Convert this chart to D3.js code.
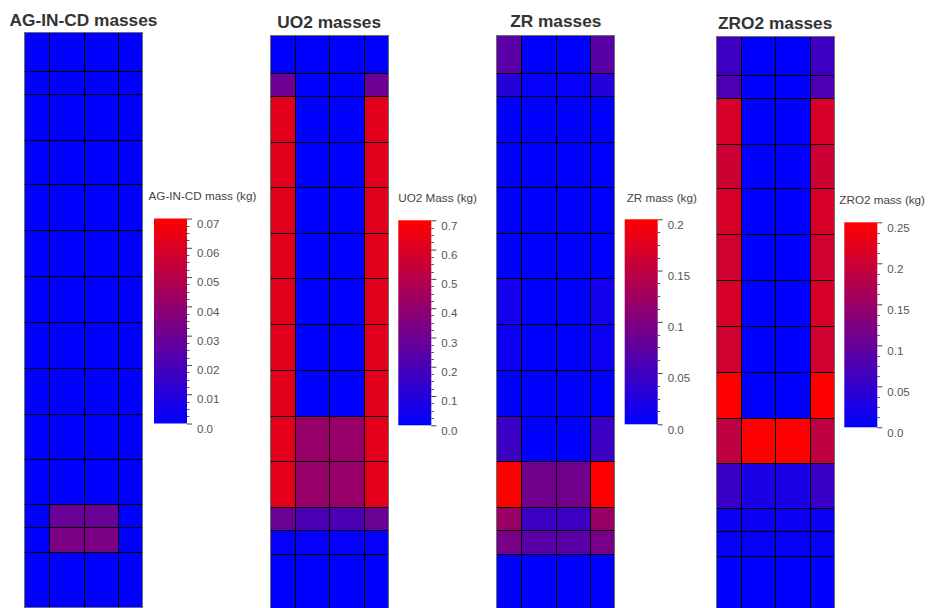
<!DOCTYPE html>
<html><head><meta charset="utf-8">
<script src="https://cdn.jsdelivr.net/npm/d3@7"></script>
<style>
body{margin:0;background:#fff;}
svg{display:block;font-family:"Liberation Sans",Arial,sans-serif;}
</style>
</head><body>
<svg id="chart" width="929" height="608"></svg>
<script>
// ---------------- DATA ----------------
// Axial mesh edges (m), listed top -> bottom
const axialEdges = [5.74, 5.365, 5.133, 4.675, 4.227, 3.77, 3.31, 2.853, 2.393, 1.933, 1.483, 1.027, 0.797, 0.553, 0];
// Radial ring edges (m): inner ring 0..r1, outer ring r1..r2 (mirrored about the axis)
const radialEdges = [0, 0.346, 0.585];

const panelTitles  = ["AG-IN-CD masses", "UO2 masses", "ZR masses", "ZRO2 masses"];
const legendTitles = ["AG-IN-CD mass (kg)", "UO2 Mass (kg)", "ZR mass (kg)", "ZRO2 mass (kg)"];

// Cell masses (kg), one value per axial row, top -> bottom
const agInCdInner = [0, 0, 0, 0, 0, 0, 0, 0, 0, 0, 0, 0.029, 0.034, 0];
const agInCdOuter = [0, 0, 0, 0, 0, 0, 0, 0, 0, 0, 0, 0, 0, 0];

const uo2Inner = [0, 0.003, 0, 0, 0, 0, 0, 0, 0, 0.415, 0.415, 0.205, 0.01, 0];
const uo2Outer = [0, 0.30, 0.62, 0.62, 0.62, 0.62, 0.62, 0.62, 0.62, 0.625, 0.625, 0.295, 0.01, 0];

const zrInner = [0, 0.004, 0, 0, 0, 0, 0, 0, 0, 0, 0.09, 0.047, 0.07, 0];
const zrOuter = [0.07, 0.03, 0, 0, 0, 0, 0.015, 0.01, 0, 0.047, 0.2, 0.12, 0.094, 0];

const zro2Inner = [0, 0, 0, 0, 0, 0, 0, 0, 0, 0.25, 0.025, 0.012, 0.005, 0];
const zro2Outer = [0.06, 0.075, 0.21, 0.20, 0.21, 0.205, 0.21, 0.205, 0.25, 0.186, 0.055, 0.012, 0.005, 0];

// Colour-bar tick labels
const agInCdTicks = ["0.0", "0.01", "0.02", "0.03", "0.04", "0.05", "0.06", "0.07"];
const uo2Ticks    = ["0.0", "0.1", "0.2", "0.3", "0.4", "0.5", "0.6", "0.7"];
const zrTicks     = ["0.0", "0.05", "0.1", "0.15", "0.2"];
const zro2Ticks   = ["0.0", "0.05", "0.1", "0.15", "0.2", "0.25"];

// ---------------- LAYOUT ----------------
const panels = [
  {inner: agInCdInner, outer: agInCdOuter, ticks: agInCdTicks},
  {inner: uo2Inner,    outer: uo2Outer,    ticks: uo2Ticks},
  {inner: zrInner,     outer: zrOuter,     ticks: zrTicks},
  {inner: zro2Inner,   outer: zro2Outer,   ticks: zro2Ticks}
];
const layout = [
  {left: 25,    top: 33.3, titleY: 26,   legTitleX: 148.5, legTitleY: 200,   barX: 154,   barTop: 218.5},
  {left: 270.7, top: 35.7, titleY: 27.5, legTitleX: 398.3, legTitleY: 201.5, barX: 398.3, barTop: 220.3},
  {left: 497.3, top: 35.7, titleY: 26.5, legTitleX: 626.7, legTitleY: 201.5, barX: 624.7, barTop: 219.3},
  {left: 716.7, top: 37.3, titleY: 29,   legTitleX: 839.3, legTitleY: 204,   barX: 844.3, barTop: 222.3}
];
const plotW = 117, plotH = 573.5, barW = 33, barH = 205;

const svg = d3.select("#chart");
const defs = svg.append("defs");

panels.forEach((p, k) => {
  const L = layout[k];
  const tickVals = p.ticks.map(Number);
  const vmax = d3.max(tickVals);
  const color = d3.scaleLinear().domain([0, vmax]).range(["#0000ff", "#ff0000"]).interpolate(d3.interpolateRgb).clamp(true);

  const rMax = radialEdges[radialEdges.length - 1];
  const x = d3.scaleLinear().domain([-rMax, rMax]).range([L.left, L.left + plotW]);
  const zMax = d3.max(axialEdges);
  const y = d3.scaleLinear().domain([0, zMax]).range([L.top + plotH, L.top]);

  const g = svg.append("g");

  // Cells
  const cells = [];
  for (let i = 0; i < axialEdges.length - 1; i++) {
    const zTop = axialEdges[i], zBot = axialEdges[i + 1];
    [p.inner, p.outer].forEach((arr, ring) => {
      const r0 = radialEdges[ring], r1 = radialEdges[ring + 1];
      cells.push({x0: -r1, x1: -r0, zTop, zBot, v: arr[i]});
      cells.push({x0: r0, x1: r1, zTop, zBot, v: arr[i]});
    });
  }
  g.selectAll("rect.cell").data(cells).join("rect")
    .attr("class", "cell")
    .attr("x", d => x(d.x0)).attr("width", d => x(d.x1) - x(d.x0))
    .attr("y", d => y(d.zTop)).attr("height", d => y(d.zBot) - y(d.zTop))
    .attr("fill", d => color(d.v))
    .attr("shape-rendering", "crispEdges");

  // Grid lines
  const xLines = [-radialEdges[1], 0, radialEdges[1]];
  g.selectAll("line.vx").data(xLines).join("line")
    .attr("x1", d => Math.round(x(d)) + 0.5).attr("x2", d => Math.round(x(d)) + 0.5)
    .attr("y1", L.top).attr("y2", L.top + plotH)
    .attr("stroke", "#000").attr("stroke-width", 1);
  const zLines = axialEdges.slice(1, -1);
  g.selectAll("line.hz").data(zLines).join("line")
    .attr("x1", L.left).attr("x2", L.left + plotW)
    .attr("y1", d => Math.round(y(d)) + 0.5).attr("y2", d => Math.round(y(d)) + 0.5)
    .attr("stroke", "#000").attr("stroke-width", 1);

  // Frame
  g.append("rect")
    .attr("x", Math.round(L.left) - 0.5).attr("y", Math.round(L.top) - 0.5)
    .attr("width", Math.round(plotW) + 1).attr("height", Math.round(plotH) + 1)
    .attr("fill", "none").attr("stroke", "#6e6e6e").attr("stroke-width", 1);

  // Title
  g.append("text")
    .attr("x", L.left + plotW / 2).attr("y", L.titleY)
    .attr("text-anchor", "middle")
    .attr("font-weight", "bold").attr("font-size", "17.3px")
    .attr("fill", "#333")
    .text(panelTitles[k]);

  // Legend title
  g.append("text")
    .attr("x", L.legTitleX).attr("y", L.legTitleY)
    .attr("font-size", "11.7px").attr("fill", "#444")
    .text(legendTitles[k]);

  // Colour bar
  const gid = "grad" + k;
  const grad = defs.append("linearGradient").attr("id", gid)
    .attr("x1", 0).attr("y1", 1).attr("x2", 0).attr("y2", 0);
  grad.append("stop").attr("offset", 0).attr("stop-color", color(0));
  grad.append("stop").attr("offset", 1).attr("stop-color", color(vmax));
  g.append("rect")
    .attr("x", L.barX).attr("y", L.barTop)
    .attr("width", barW).attr("height", barH)
    .attr("fill", `url(#${gid})`);

  const ys = d3.scaleLinear().domain([0, vmax]).range([L.barTop + barH, L.barTop]);
  const barRight = L.barX + barW;

  // Minor ticks (3 between majors)
  const minors = [];
  for (let t = 0; t < tickVals.length - 1; t++) {
    const a = tickVals[t], b = tickVals[t + 1];
    for (let m = 1; m <= 3; m++) minors.push(a + (b - a) * m / 4);
  }
  g.selectAll("line.minor").data(minors).join("line")
    .attr("x1", barRight).attr("x2", barRight + 2.5)
    .attr("y1", d => Math.round(ys(d)) + 0.5).attr("y2", d => Math.round(ys(d)) + 0.5)
    .attr("stroke", "#555").attr("stroke-width", 1);

  // Major ticks via axis
  const axis = d3.axisRight(ys).tickValues(tickVals).tickSize(5).tickPadding(5)
    .tickFormat((d, i) => p.ticks[i]);
  const ag = g.append("g").attr("transform", `translate(${barRight},0)`).call(axis);
  ag.select(".domain").remove();
  ag.selectAll(".tick line").attr("stroke", "#444");
  ag.selectAll(".tick text")
    .attr("font-family", "'Liberation Sans', Arial, sans-serif")
    .attr("font-size", "11.5px").attr("fill", "#555")
    .attr("dy", "0.72em").attr("y", 0).attr("dx", 0)
    .attr("transform", "translate(0,0.5)");
});
</script>
</body></html>
